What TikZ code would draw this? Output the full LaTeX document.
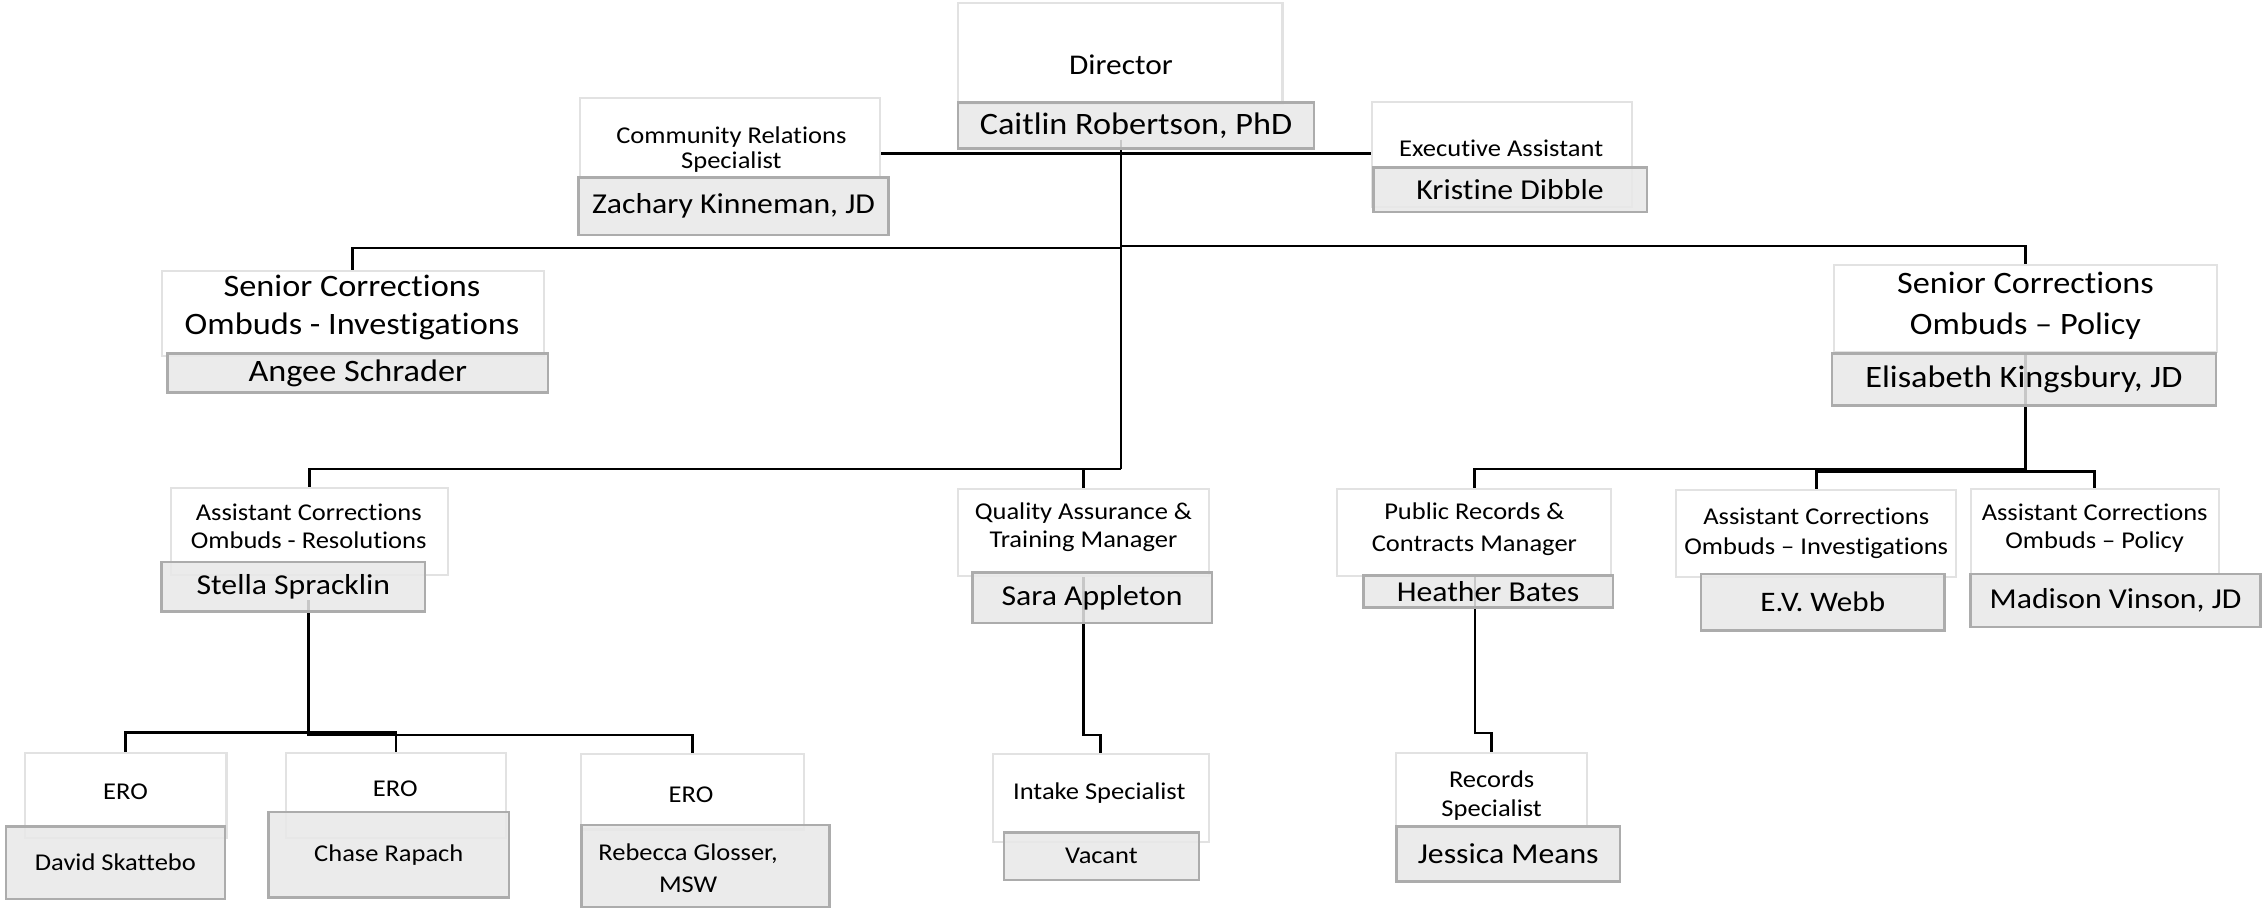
\documentclass[tikz,border=0pt]{standalone}
\usepackage{fontspec}
\setmainfont{Carlito}[FakeStretch=1.1,Ligatures={NoCommon,NoContextual}]
\usetikzlibrary{calc}
\definecolor{namefill}{RGB}{232,232,232}
\definecolor{nameline}{RGB}{172,172,172}
\definecolor{titleline}{RGB}{226,226,226}
\pgfdeclarelayer{bg}
\pgfsetlayers{bg,main}
\newcommand\mybox[7]{%
 \pgfmathsetmacro\myBW{(#5-#3)*0.5}%
 \pgfmathsetmacro\myBH{(#6-#4)*0.5}%
 \node[#2, minimum width=\myBW pt, minimum height=\myBH pt] (#1) at ({(#3+#5)/2},{(#4+#6)/2}) {#7};}
\begin{document}
\begin{tikzpicture}[x=0.5pt,y=-0.5pt,
 titlebox/.style={draw=titleline, line width=0.7pt, fill=white, inner sep=0pt},
 namebox/.style={draw=nameline, line width=0.85pt, fill=namefill, fill opacity=0.86, text opacity=1, inner sep=0pt, align=center},
 conn/.style={line width=0.87pt, black},
 fa/.style={font=\fontsize{10.8}{13}\selectfont},
 fb/.style={font=\fontsize{10}{12}\selectfont},
 fs/.style={font=\fontsize{8.35}{9.8}\selectfont},
 ttext/.style={inner sep=0pt, align=center}]
\useasboundingbox (0,0) rectangle (1568,629.4);
% ---- title (white) boxes
\mybox{dirT}{titlebox}{664}{2}{889}{72}{}
\mybox{crT}{titlebox}{402}{68}{610}{122.5}{}
\mybox{exT}{titlebox}{951}{70.6}{1131}{143.5}{}
\mybox{siT}{titlebox}{112}{188}{377}{247}{}
\mybox{spT}{titlebox}{1271}{184}{1537}{244}{}
\mybox{arT}{titlebox}{118.6}{338}{310.5}{398.6}{}
\mybox{qaT}{titlebox}{664}{339}{838}{399}{}
\mybox{prT}{titlebox}{927}{339}{1117}{399}{}
\mybox{aiT}{titlebox}{1162}{340}{1356}{400}{}
\mybox{apT}{titlebox}{1366}{339}{1538}{398}{}
\mybox{eoaT}{titlebox}{17}{522}{157}{581}{}
\mybox{eobT}{titlebox}{198}{522}{351}{581}{}
\mybox{eocT}{titlebox}{403}{523}{557}{575}{}
\mybox{inT}{titlebox}{688}{523}{838}{584}{}
\mybox{rsT}{titlebox}{968}{522}{1100}{573}{}
% ---- name (grey) boxes
\mybox{dirN}{namebox,fa}{664}{71}{911}{103}{Caitlin Robertson, PhD}
\mybox{zkN}{namebox,fb}{401}{123}{616}{163}{Zachary Kinneman, JD}
\mybox{kdN}{namebox,fb}{952}{116}{1141.5}{147}{Kristine Dibble}
\mybox{asN}{namebox,fa}{116}{245}{380}{272}{Angee Schrader}
\mybox{ekN}{namebox,fa}{1270}{245}{1536}{281}{Elisabeth Kingsbury, JD}
\mybox{ssN}{namebox,fb}{112}{389.6}{294.7}{424}{Stella Spracklin}
\mybox{saN}{namebox,fb}{674}{397}{840}{432}{Sara Appleton}
\mybox{hbN}{namebox,fb}{945}{399}{1118}{421}{Heather Bates}
\mybox{evN}{namebox,font=\fontsize{9.8}{12}\selectfont}{1179}{398}{1348}{437}{E.V. Webb}
\mybox{mvN}{namebox,fb}{1366}{398}{1567}{434.5}{Madison Vinson, JD}
\mybox{dsN}{namebox,fs}{4}{573}{156}{623}{David Skattebo}
\mybox{cpN}{namebox,fs}{186}{563}{353}{622}{Chase Rapach}
\mybox{rgN}{namebox}{403}{572}{575}{629}{}
\mybox{vaN}{namebox,fs}{696}{577}{831}{610}{Vacant}
\mybox{jmN}{namebox,fb}{968}{573}{1123}{611}{Jessica Means}
% ---- title texts
\node[ttext,font=\fontsize{9.9}{11}\selectfont] (dirL) at (777,45) {Director};
\node[ttext,font=\fontsize{8.35}{8.7}\selectfont] (crL) at (507,103.5) {Community Relations\\Specialist};
\node[ttext,fs] (exL) at (1040.6,103) {Executive Assistant};
\node[ttext,font=\fontsize{10.8}{13}\selectfont] (siL) at (244,213) {Senior Corrections\\Ombuds - Investigations};
\node[ttext,font=\fontsize{10.8}{14.4}\selectfont] (spL) at (1404,212) {Senior Corrections\\Ombuds – Policy};
\node[ttext,font=\fontsize{8.35}{9.8}\selectfont] (arL) at (214,364.7) {Assistant Corrections\\Ombuds - Resolutions};
\node[ttext,font=\fontsize{8.35}{9.5}\selectfont] (qaL) at (751,365.5) {Quality Assurance \&\\Training Manager};
\node[ttext,font=\fontsize{8.35}{11}\selectfont] (prL) at (1022,367) {Public Records \&\\Contracts Manager};
\node[ttext,font=\fontsize{8.35}{10.4}\selectfont] (aiL) at (1259,369.5) {Assistant Corrections\\Ombuds – Investigations};
\node[ttext,font=\fontsize{8.35}{9.8}\selectfont] (apL) at (1452,366) {Assistant Corrections\\Ombuds – Policy};
\node[ttext,fs] (eoaL) at (87,549) {ERO};
\node[ttext,fs] (eobL) at (274,547) {ERO};
\node[ttext,fs] (eocL) at (479,551) {ERO};
\node[ttext,fs] (inL) at (762,550) {Intake Specialist};
\node[ttext,font=\fontsize{8.35}{9.8}\selectfont] (rsL) at (1034,551.5) {Records\\Specialist};
\node[ttext,font=\fontsize{8.35}{11}\selectfont] (rgL) at (477,602) {Rebecca Glosser,\\MSW};
% ---- connectors
\begin{pgfonlayer}{bg}
\coordinate (hA) at (0,106.5);
\draw[conn] (crT.east |- hA) -- (exT.west |- hA);
\coordinate (t0) at (777,97);
\coordinate (t1) at (777,172);
\coordinate (t2) at (777,170.6);
\coordinate (t3) at (777,325);
\draw[conn] (t0) -- (t3);
\draw[conn] (t1) -| (siT.north);
\draw[conn] (t2) -| (spT.north);
\draw[conn] (t3) -| (arT.north);
\draw[conn] (t3 -| qaT.north) -- (qaT.north);
\coordinate (p1) at (1404,325);
\coordinate (p2) at (1404,327);
\draw[conn] (ekN.north -| p1) -- (p2);
\draw[conn] (p1) -| (prT.north);
\draw[conn] (aiT.north) |- (p2) -| (apT.north);
\coordinate (s0) at (214,416);
\coordinate (s1) at (214,509.6);
\coordinate (s2) at (214,507.6);
\draw[conn] (s0) -- (s1) -| (eocT.north);
\draw[conn] (eoaT.north) |- (s2) -| (eobT.north);
\coordinate (a1) at (751,509.5);
\draw[conn] (saN.north -| a1) -- (a1) -| (inT.north);
\coordinate (h1) at (1022.6,508);
\draw[conn] (hbN.north -| h1) -- (h1) -| (rsT.north);
\end{pgfonlayer}
\end{tikzpicture}
\end{document}
